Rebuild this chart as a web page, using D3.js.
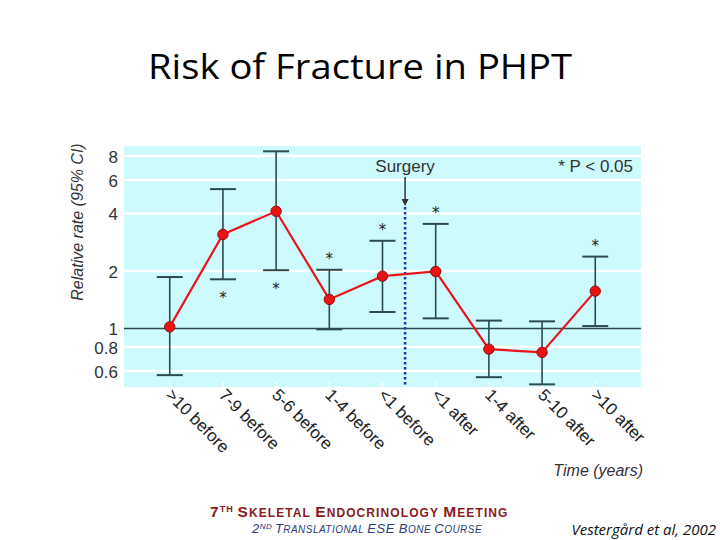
<!DOCTYPE html>
<html>
<head>
<meta charset="utf-8">
<script src="https://cdn.jsdelivr.net/npm/d3@7"></script>
<style>
  body { margin: 0; background: #fff; }
  svg { display: block; }
  .narrow { font-family: 'Liberation Sans Narrow', 'Liberation Sans', Arial, sans-serif; }
</style>
</head>
<body>
<div id="vis"></div>
<script>
'use strict'

// data
const periods = ['>10 before', '7-9 before', '5-6 before', '1-4 before', '<1 before',
                 '<1 after', '1-4 after', '5-10 after', '>10 after']
const rates = [1.02, 3.11, 4.11, 1.42, 1.88, 1.99, 0.78, 0.75, 1.57]
const lower = [0.57, 1.81, 2.02, 0.99, 1.22, 1.13, 0.556, 0.51, 1.03]
const upper = [1.86, 5.37, 8.47, 2.03, 2.88, 3.53, 1.10, 1.09, 2.38]
// significance star: 0 none, 1 above the bar, -1 below the bar
const stars = [0, -1, -1, 1, 1, 1, 0, 0, 1]
const yTicks = [0.6, 0.8, 1, 2, 4, 6, 8]

const dataset = periods.map((p, i) => ({
  period: p, rate: rates[i], lo: lower[i], hi: upper[i], star: stars[i]
}))

const totalWidth = 720
const totalHeight = 540
const plot = { left: 124, right: 641, top: 146, bottom: 387 }

const svg = d3.select('div#vis')
  .append('svg')
    .attr('width', totalWidth)
    .attr('height', totalHeight)

//
// SCALES
//

const x = d3.scalePoint()
  .domain(periods)
  .range([plot.left, plot.right])
  .padding(0.86)

const y = d3.scaleLog()
  .domain([0.494, 9.03])
  .range([plot.bottom, plot.top])

//
// TITLE
//

svg.append('text')
  .attr('x', 148)
  .attr('y', 79)
  .attr('textLength', 424)
  .attr('lengthAdjust', 'spacingAndGlyphs')
  .style('font-family', "'Open Sans', sans-serif")
  .style('font-size', '34px')
  .attr('fill', '#000')
  .text('Risk of Fracture in PHPT')

//
// PLOT BACKGROUND & GRID
//

svg.append('rect')
  .attr('x', plot.left)
  .attr('y', plot.top)
  .attr('width', plot.right - plot.left)
  .attr('height', plot.bottom - plot.top)
  .attr('fill', '#cdfafd')

svg.append('g')
  .selectAll('line')
  .data(yTicks.filter(d => d !== 1))
  .join('line')
    .attr('x1', plot.left)
    .attr('x2', plot.right)
    .attr('y1', d => y(d))
    .attr('y2', d => y(d))
    .attr('stroke', '#fff')
    .attr('stroke-width', 2.5)

// small white ticks at the bottom of the plot
svg.append('g')
  .selectAll('line')
  .data(periods)
  .join('line')
    .attr('x1', d => x(d))
    .attr('x2', d => x(d))
    .attr('y1', plot.bottom)
    .attr('y2', plot.bottom - 5)
    .attr('stroke', '#fff')
    .attr('stroke-width', 1.5)

// reference line at 1
svg.append('line')
  .attr('x1', plot.left)
  .attr('x2', plot.right)
  .attr('y1', y(1))
  .attr('y2', y(1))
  .attr('stroke', '#2e4a4c')
  .attr('stroke-width', 1.5)

//
// Y AXIS
//

const yAxis = d3.axisLeft(y)
  .tickValues(yTicks)
  .tickFormat(d3.format('~g'))
  .tickSize(0)
  .tickPadding(0)

svg.append('g')
  .attr('class', 'narrow')
  .attr('transform', 'translate(118,0)')
  .call(yAxis)
  .call(g => g.select('.domain').remove())
  .call(g => g.selectAll('text')
    .style('font-size', '17px')
    .attr('fill', '#333')
    .attr('dy', '0.36em'))

svg.append('text')
  .attr('class', 'narrow')
  .attr('transform', 'translate(83,222) rotate(-90)')
  .attr('text-anchor', 'middle')
  .style('font-size', '16px')
  .style('font-style', 'italic')
  .attr('fill', '#333')
  .text('Relative rate (95% CI)')

//
// X AXIS LABELS
//

svg.append('g')
  .attr('class', 'narrow')
  .selectAll('text')
  .data(periods)
  .join('text')
    .attr('transform', d => 'translate(' + (x(d) - 5) + ',' + 396 + ') rotate(45)')
    .style('font-size', '17px')
    .attr('fill', '#222')
    .text(d => d)

svg.append('text')
  .attr('class', 'narrow')
  .attr('x', 643)
  .attr('y', 476)
  .attr('text-anchor', 'end')
  .style('font-size', '16px')
  .style('font-style', 'italic')
  .attr('fill', '#333')
  .text('Time (years)')

//
// SURGERY MARKER
//

const surgeryX = (x('<1 before') + x('<1 after')) / 2 - 4

svg.append('line')
  .attr('x1', surgeryX)
  .attr('x2', surgeryX)
  .attr('y1', 207)
  .attr('y2', plot.bottom)
  .attr('stroke', '#2233bb')
  .attr('stroke-width', 2.5)
  .attr('stroke-dasharray', '2.5,2.5')

svg.append('line')
  .attr('x1', surgeryX)
  .attr('x2', surgeryX)
  .attr('y1', 177)
  .attr('y2', 200)
  .attr('stroke', '#333')
  .attr('stroke-width', 1.5)

svg.append('path')
  .attr('d', d3.line()([[surgeryX - 3.5, 199], [surgeryX + 3.5, 199], [surgeryX, 206]]))
  .attr('fill', '#333')

svg.append('text')
  .attr('class', 'narrow')
  .attr('x', surgeryX)
  .attr('y', 172)
  .attr('text-anchor', 'middle')
  .style('font-size', '17px')
  .attr('fill', '#333')
  .text('Surgery')

svg.append('text')
  .attr('class', 'narrow')
  .attr('x', 633)
  .attr('y', 172)
  .attr('text-anchor', 'end')
  .style('font-size', '17px')
  .attr('fill', '#333')
  .text('* P < 0.05')

//
// ERROR BARS
//

const capHalf = 13
const bars = svg.append('g')
  .selectAll('g')
  .data(dataset)
  .join('g')
    .attr('stroke', '#2e4a4c')

bars.append('line')
  .attr('x1', d => x(d.period))
  .attr('x2', d => x(d.period))
  .attr('y1', d => y(d.lo))
  .attr('y2', d => y(d.hi))
  .attr('stroke-width', 1.6)

bars.append('line')
  .attr('x1', d => x(d.period) - capHalf)
  .attr('x2', d => x(d.period) + capHalf)
  .attr('y1', d => y(d.hi))
  .attr('y2', d => y(d.hi))
  .attr('stroke-width', 2)

bars.append('line')
  .attr('x1', d => x(d.period) - capHalf)
  .attr('x2', d => x(d.period) + capHalf)
  .attr('y1', d => y(d.lo))
  .attr('y2', d => y(d.lo))
  .attr('stroke-width', 2)

// significance stars
svg.append('g')
  .selectAll('text')
  .data(dataset.filter(d => d.star !== 0))
  .join('text')
    .attr('x', d => x(d.period))
    .attr('y', d => d.star > 0 ? y(d.hi) - 6 : y(d.lo) + 24)
    .attr('text-anchor', 'middle')
    .style('font-family', 'DejaVu Sans, sans-serif')
    .style('font-size', '15px')
    .attr('fill', '#222')
    .text('*')

//
// RATE LINE & POINTS
//

svg.append('path')
  .datum(dataset)
  .attr('d', d3.line().x(d => x(d.period)).y(d => y(d.rate)))
  .attr('fill', 'none')
  .attr('stroke', '#e8161b')
  .attr('stroke-width', 2.2)

svg.append('g')
  .selectAll('circle')
  .data(dataset)
  .join('circle')
    .attr('cx', d => x(d.period))
    .attr('cy', d => y(d.rate))
    .attr('r', 5.2)
    .attr('fill', '#ee1111')
    .attr('stroke', '#8a1010')
    .attr('stroke-width', 1)

//
// FOOTER
//

const footer = svg.append('g')
  .style('font-family', "'Liberation Sans', Arial, sans-serif")
  .style('font-weight', 'bold')

const meeting = footer.append('text')
  .attr('x', 210)
  .attr('y', 517)
  .attr('textLength', 298)
  .attr('fill', '#8b1a1a')
  .style('font-size', '15.5px')
  .style('letter-spacing', '0.6px')
meeting.append('tspan').text('7')
meeting.append('tspan').style('font-size', '9px').attr('dy', -5).text('TH ')
meeting.append('tspan').attr('dy', 5).text('S')
meeting.append('tspan').style('font-size', '12px').text('KELETAL ')
meeting.append('tspan').text('E')
meeting.append('tspan').style('font-size', '12px').text('NDOCRINOLOGY ')
meeting.append('tspan').text('M')
meeting.append('tspan').style('font-size', '12px').text('EETING')

const course = svg.append('text')
  .attr('x', 252)
  .attr('y', 533)
  .attr('textLength', 230)
  .attr('fill', '#2a3a7a')
  .style('font-family', "'Liberation Sans', Arial, sans-serif")
  .style('font-style', 'italic')
  .style('font-size', '13px')
  .style('letter-spacing', '0.4px')
course.append('tspan').text('2')
course.append('tspan').style('font-size', '8px').attr('dy', -4).text('ND ')
course.append('tspan').attr('dy', 4).text('T')
course.append('tspan').style('font-size', '10px').text('RANSLATIONAL ')
course.append('tspan').text('ESE B')
course.append('tspan').style('font-size', '10px').text('ONE ')
course.append('tspan').text('C')
course.append('tspan').style('font-size', '10px').text('OURSE')

svg.append('text')
  .attr('x', 716)
  .attr('y', 535)
  .attr('text-anchor', 'end')
  .style('font-family', "'Open Sans', sans-serif")
  .style('font-style', 'italic')
  .style('font-size', '15px')
  .attr('fill', '#111')
  .text('Vestergård et al, 2002')
</script>
</body>
</html>
